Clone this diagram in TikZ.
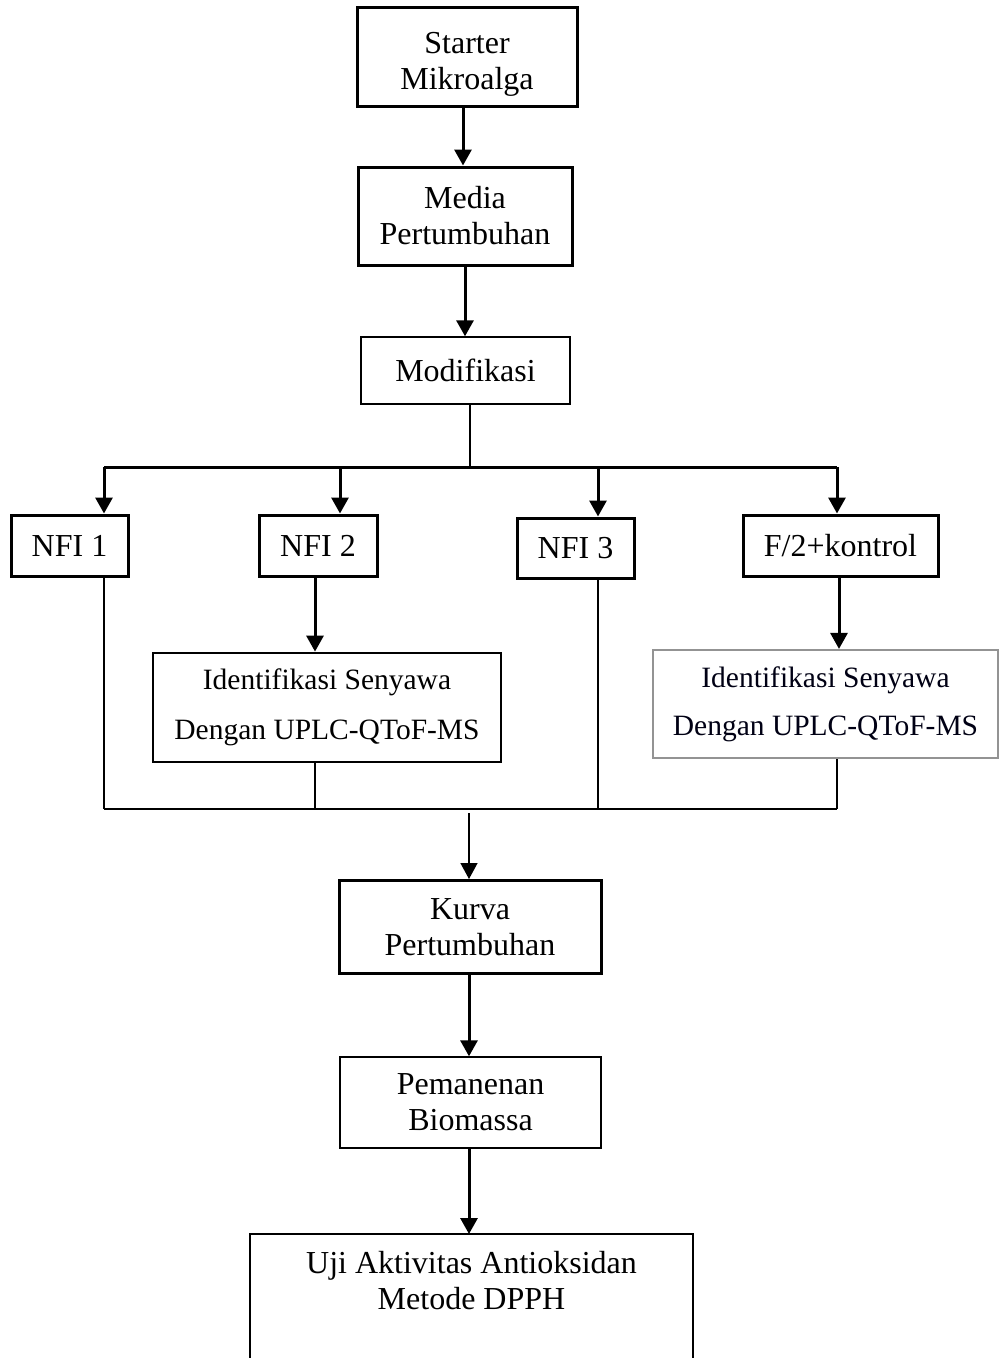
\documentclass[tikz,border=0pt]{standalone}
\usepackage{fontspec}
\setmainfont{Liberation Serif}
\usetikzlibrary{arrows.meta}
\tikzset{
  thickbox/.style={draw, line width=3pt, align=center, inner sep=0pt, font=\fontsize{32}{36}\selectfont},
  thinbox/.style={draw, line width=1.4pt, align=center, inner sep=0pt, font=\fontsize{32}{36}\selectfont},
  idbox/.style={draw, line width=2.8pt, align=center, inner sep=0pt, font=\fontsize{29.5}{50}\selectfont},
  grbox/.style={draw=gray!85, line width=2.2pt, align=center, inner sep=0pt, font=\fontsize{29.5}{48}\selectfont, text=black!92!blue},
  arr/.style={line width=3pt, -{Triangle[length=16pt,width=17pt]}},
  tarr/.style={line width=1.4pt, -{Triangle[length=16pt,width=17pt]}},
  bus/.style={line width=1.4pt},
  tbus/.style={line width=3pt}
}
\begin{document}
\begin{tikzpicture}[x=1pt,y=-1pt]
\clip (0,0) rectangle (999,1358);
\fill[white] (0,0) rectangle (999,1358);

\node[thickbox, minimum width=220pt, minimum height=99pt] (starter) at (467,56.5) {\rule{0pt}{36pt}Starter\\Mikroalga};
\node[thickbox, minimum width=214pt, minimum height=98pt] (media) at (465,216) {Media\\Pertumbuhan};
\node[thinbox, minimum width=209pt, minimum height=67pt] (modif) at (465.5,370.5) {Modifikasi};

\node[thickbox, minimum width=117pt, minimum height=61pt] (nfi1) at (69.5,545.5) {NFI 1};
\node[thickbox, minimum width=118pt, minimum height=61pt] (nfi2) at (318,545.5) {NFI 2};
\node[thickbox, minimum width=117pt, minimum height=60pt] (nfi3) at (575.5,548) {NFI 3};
\node[thickbox, minimum width=195pt, minimum height=61pt] (f2) at (840.5,545.5) {F/2+kontrol};

\node[idbox, minimum width=348pt, minimum height=109pt] (id1) at (327,707.5) {Identifikasi Senyawa\\Dengan UPLC-QToF-MS};
\node[grbox, minimum width=345pt, minimum height=108pt] (id2) at (825.5,704) {Identifikasi Senyawa\\Dengan UPLC-QToF-MS};

\node[thickbox, minimum width=262pt, minimum height=93pt] (kurva) at (470,927) {Kurva\\Pertumbuhan};
\node[thinbox, minimum width=261pt, minimum height=91pt] (pem) at (470.5,1102.5) {Pemanenan\\Biomassa};

\node[align=center, inner sep=0pt, font=\fontsize{32}{36}\selectfont] (uji) at (471.5,1281) {Uji Aktivitas Antioksidan\\Metode DPPH};
\coordinate (ujitop) at (469,1234);
\draw[line width=1.4pt] (250,1400) -- (250,1234) -- (693,1234) -- (693,1400);

% top chain
\draw[arr] (starter.south -| 463,0) -- (media.north -| 463,0);
\draw[arr] (media.south -| 465,0) -- (modif.north -| 465,0);

% branching bus
\coordinate (b1) at (104,467);
\coordinate (b2) at (340,467);
\coordinate (b3) at (598,467);
\coordinate (b4) at (837,467);
\coordinate (bm) at (470,467);
\draw[bus] (modif.south -| bm) -- (bm);
\draw[tbus] (b1) -- (b4);
\draw[arr] (b1) -- (b1 |- nfi1.north);
\draw[arr] (b2) -- (b2 |- nfi2.north);
\draw[arr] (b3) -- (b3 |- nfi3.north);
\draw[arr] (b4) -- (b4 |- f2.north);

% to identification
\draw[arr] (nfi2.south -| 315,0) -- (id1.north -| 315,0);
\draw[arr] (f2.south -| 839,0) -- (id2.north -| 839,0);

% collecting bus
\coordinate (c1) at (104,809);
\coordinate (c2) at (315,809);
\coordinate (c3) at (598,809);
\coordinate (c4) at (837,809);
\draw[bus] (nfi1.south -| c1) -- (c1);
\draw[bus] (id1.south -| c2) -- (c2);
\draw[bus] (nfi3.south -| c3) -- (c3);
\draw[bus] (id2.south -| c4) -- (c4);
\draw[bus] (c1) -- (c4);

\coordinate (k0) at (469,813);
\draw[tarr] (k0) -- (k0 |- kurva.north);

% bottom chain
\draw[arr] (kurva.south -| 469,0) -- (pem.north -| 469,0);
\draw[arr] (pem.south -| 469,0) -- (ujitop);
\end{tikzpicture}
\end{document}
